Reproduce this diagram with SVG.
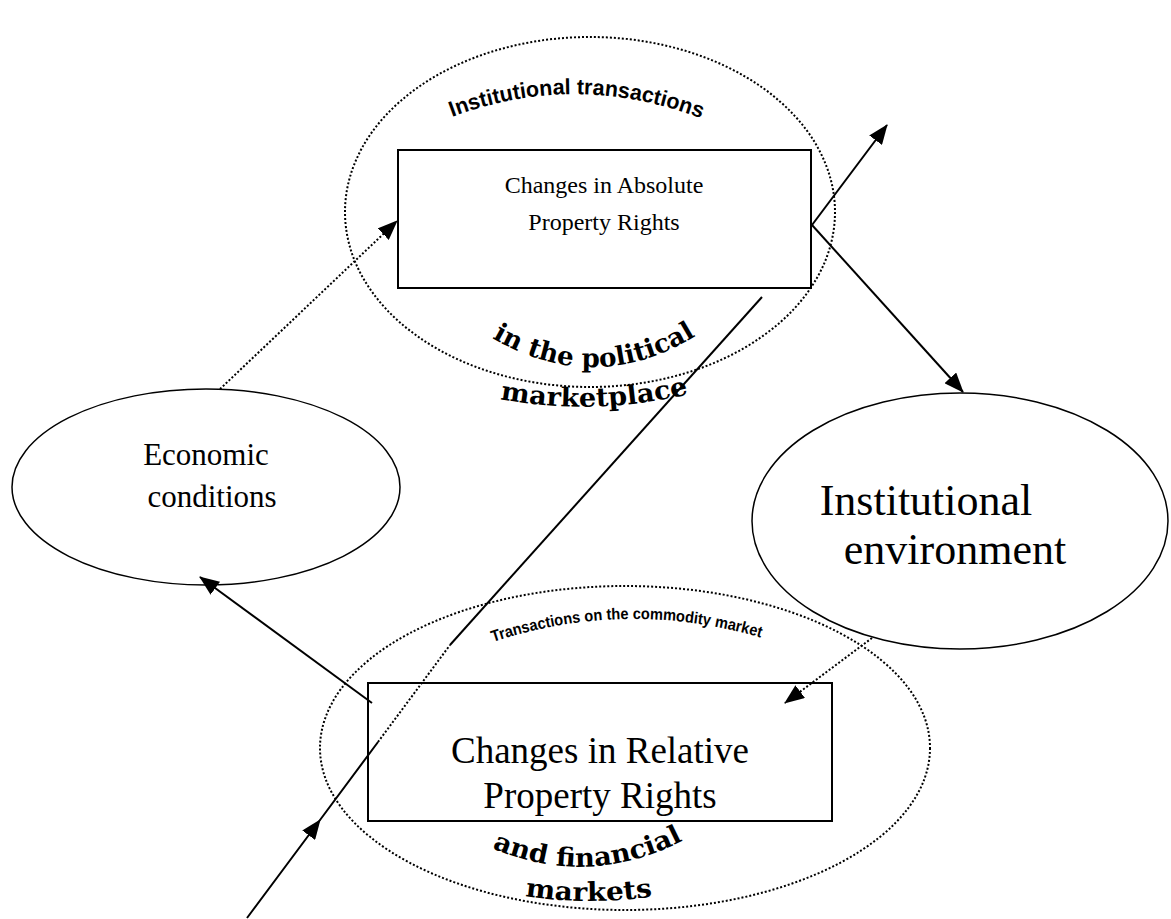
<svg xmlns="http://www.w3.org/2000/svg" width="1171" height="919" viewBox="0 0 1171 919">
<style>
.box{fill:#fff;stroke:#000;stroke-width:2}
.obox{fill:none;stroke:#000;stroke-width:2}
.ell{fill:#fff;stroke:#000;stroke-width:1.5}
.dell{fill:none;stroke:#000;stroke-width:2;stroke-dasharray:2 2}
.ln{stroke:#000;stroke-width:2;fill:none}
.dln{stroke:#000;stroke-width:2;fill:none;stroke-dasharray:2 2}
.t{font-family:"Liberation Serif","Times New Roman",serif;fill:#000;text-anchor:middle}
.wa{font-family:"Liberation Sans",Arial,sans-serif;font-weight:bold;fill:#000}
.wb{font-family:"DejaVu Serif",serif;font-weight:bold;fill:#000}
</style>
<defs>
<marker id="ah" markerUnits="userSpaceOnUse" markerWidth="20" markerHeight="16" refX="19" refY="8" orient="auto">
<path d="M0,0 L20,8 L0,16 z" fill="#000"/>
</marker>
<path id="p1" d="M452,117 Q578,70 705,120"/>
<path id="p2" d="M492,338 Q600,400 705,330"/>
<path id="p3" d="M500,399 Q597,417 693,393"/>
<path id="p4" d="M493,642 Q627,598 762,638"/>
<path id="p5" d="M492,848 Q590,890 688,838"/>
<path id="p6" d="M525,896 Q590,906 655,896"/>
</defs>

<g id="political-market">
<ellipse class="dell" cx="590" cy="212" rx="245" ry="175"/>
<text class="wa" font-size="22"><textPath href="#p1" textLength="255" lengthAdjust="spacingAndGlyphs">Institutional transactions</textPath></text>
<text class="wb" font-size="26"><textPath href="#p2" textLength="215" lengthAdjust="spacingAndGlyphs">in the political</textPath></text>
<text class="wb" font-size="26"><textPath href="#p3" textLength="190" lengthAdjust="spacingAndGlyphs">marketplace</textPath></text>
</g>

<g id="commodity-market">
<ellipse class="dell" cx="625" cy="748" rx="305" ry="162"/>
<text class="wa" font-size="16"><textPath href="#p4" textLength="272" lengthAdjust="spacingAndGlyphs">Transactions on the commodity market</textPath></text>
<text class="wb" font-size="26"><textPath href="#p5" textLength="198" lengthAdjust="spacingAndGlyphs">and financial</textPath></text>
<text class="wb" font-size="26"><textPath href="#p6" textLength="128" lengthAdjust="spacingAndGlyphs">markets</textPath></text>
</g>

<g id="economic-conditions">
<ellipse class="ell" cx="206" cy="487" rx="194" ry="98"/>
<text class="t" x="206" y="465" font-size="31">Economic</text>
<text class="t" x="212" y="507" font-size="31">conditions</text>
</g>

<g id="institutional-environment">
<ellipse class="ell" cx="960" cy="521" rx="208" ry="128"/>
<text class="t" x="926" y="515" font-size="44">Institutional</text>
<text class="t" x="955" y="564" font-size="44">environment</text>
</g>

<g id="absolute-rights">
<rect class="box" x="398" y="150" width="413" height="138"/>
<text class="t" x="604" y="193" font-size="24">Changes in Absolute</text>
<text class="t" x="604" y="230" font-size="24">Property Rights</text>
</g>

<g id="connectors">
<polyline class="ln" points="247,918 320,820 378,742" marker-mid="url(#ah)"/>
<line class="dln" x1="378" y1="742" x2="450" y2="645"/>
<line class="ln" x1="450" y1="645" x2="762" y2="297"/>
<line class="ln" x1="812" y1="225" x2="887" y2="125" marker-end="url(#ah)"/>
<line class="ln" x1="812" y1="225" x2="963" y2="392" marker-end="url(#ah)"/>
<line class="dln" x1="220" y1="389" x2="397" y2="221" marker-end="url(#ah)"/>
<line class="dln" x1="872" y1="638" x2="785" y2="703" marker-end="url(#ah)"/>
<line class="ln" x1="372" y1="703" x2="200" y2="577" marker-end="url(#ah)"/>
</g>

<g id="relative-rights">
<rect class="obox" x="368" y="683" width="464" height="138"/>
<text class="t" x="600" y="763" font-size="37">Changes in Relative</text>
<text class="t" x="600" y="808" font-size="37">Property Rights</text>
</g>
</svg>
